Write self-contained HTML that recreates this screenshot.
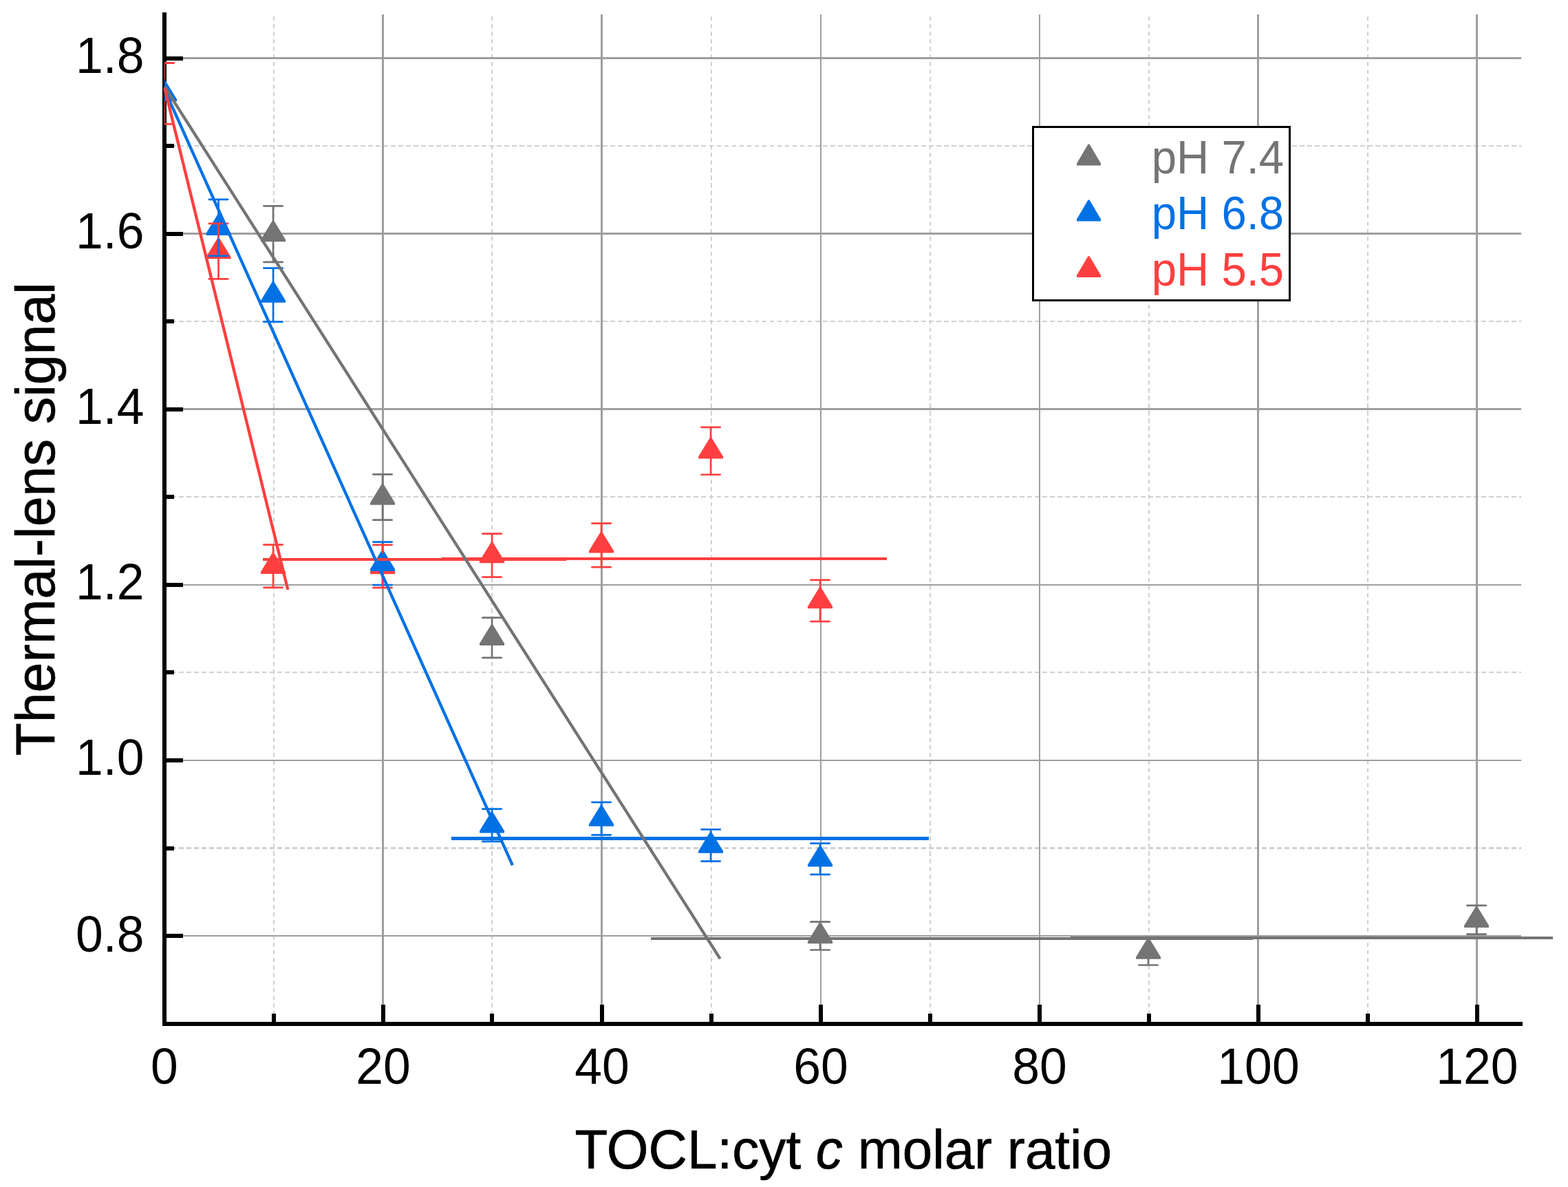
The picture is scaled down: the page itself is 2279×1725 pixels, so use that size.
<!DOCTYPE html>
<html lang="en"><head><meta charset="utf-8">
<title>Thermal-lens signal vs TOCL:cyt c molar ratio</title>
<style>
html,body{margin:0;padding:0;background:#fff;}
body{width:2279px;height:1725px;overflow:hidden;}
svg{display:block;}
text{font-family:"Liberation Sans", sans-serif;}
.tick{font-size:71.5px;fill:#000;}
.title{font-size:79.5px;fill:#000;stroke:#000;stroke-width:0.7px;stroke-linejoin:round;}
.leg{font-size:66.5px;}
</style></head><body>
<svg width="2279" height="1725" viewBox="0 0 2279 1725" role="img" aria-label="Thermal-lens signal versus TOCL:cyt c molar ratio at pH 7.4, 6.8 and 5.5">
<rect x="0" y="0" width="2279" height="1725" fill="#ffffff"/>
<g id="grid-minor" stroke="#d0d0d0" fill="none" shape-rendering="crispEdges">
<line x1="398.0" y1="23.6" x2="398.0" y2="1488.0" stroke-width="2" stroke-dasharray="6.2 4.835"/>
<line x1="715.0" y1="23.6" x2="715.0" y2="1488.0" stroke-width="2" stroke-dasharray="6.2 4.835"/>
<line x1="1034.0" y1="23.6" x2="1034.0" y2="1488.0" stroke-width="2" stroke-dasharray="6.2 4.835"/>
<line x1="1352.0" y1="23.6" x2="1352.0" y2="1488.0" stroke-width="2" stroke-dasharray="6.2 4.835"/>
<line x1="1670.0" y1="23.6" x2="1670.0" y2="1488.0" stroke-width="2" stroke-dasharray="6.2 4.835"/>
<line x1="1988.0" y1="23.6" x2="1988.0" y2="1488.0" stroke-width="2" stroke-dasharray="6.2 4.835"/>
<line x1="238" y1="212.0" x2="2211.0" y2="212.0" stroke-width="2" stroke-dasharray="6.9 4.107"/>
<line x1="238" y1="467.0" x2="2211.0" y2="467.0" stroke-width="2" stroke-dasharray="6.9 4.107"/>
<line x1="238" y1="722.0" x2="2211.0" y2="722.0" stroke-width="2" stroke-dasharray="6.9 4.107"/>
<line x1="238" y1="977.0" x2="2211.0" y2="977.0" stroke-width="2" stroke-dasharray="6.9 4.107"/>
<line x1="238" y1="1232.5" x2="2211.0" y2="1232.5" stroke-width="3" stroke-dasharray="6.9 4.107"/>
</g>
<g id="grid-major" fill="#9e9e9e" shape-rendering="crispEdges">
<rect x="555" y="21.2" width="3" height="1466.8"/>
<rect x="873" y="21.2" width="3" height="1466.8"/>
<rect x="1192" y="21.2" width="2" height="1466.8"/>
<rect x="1510" y="21.2" width="2" height="1466.8"/>
<rect x="1827" y="21.2" width="3" height="1466.8"/>
<rect x="2145" y="21.2" width="3" height="1466.8"/>
<rect x="239.0" y="83" width="1972.0" height="3"/>
<rect x="239.0" y="338" width="1972.0" height="3"/>
<rect x="239.0" y="593" width="1972.0" height="3"/>
<rect x="239.0" y="849" width="1972.0" height="2"/>
<rect x="239.0" y="1104" width="1972.0" height="2"/>
<rect x="239.0" y="1359" width="1972.0" height="2"/>
</g>
<g id="axes" fill="#000" shape-rendering="crispEdges">
<rect x="236" y="18" width="6" height="1473"/>
<rect x="236" y="1485" width="1977" height="6"/>
<rect x="239" y="82" width="27" height="6"/>
<rect x="239" y="337" width="27" height="6"/>
<rect x="239" y="592" width="27" height="6"/>
<rect x="239" y="847" width="27" height="6"/>
<rect x="239" y="1102" width="27" height="6"/>
<rect x="239" y="1357" width="27" height="6"/>
<rect x="239" y="209" width="14" height="6"/>
<rect x="239" y="464" width="14" height="6"/>
<rect x="239" y="719" width="14" height="6"/>
<rect x="239" y="974" width="14" height="6"/>
<rect x="239" y="1230" width="14" height="6"/>
<rect x="554" y="1460" width="6" height="27"/>
<rect x="872" y="1460" width="6" height="27"/>
<rect x="1190" y="1460" width="6" height="27"/>
<rect x="1508" y="1460" width="6" height="27"/>
<rect x="1826" y="1460" width="6" height="27"/>
<rect x="2144" y="1460" width="6" height="27"/>
<rect x="395" y="1473" width="6" height="14"/>
<rect x="712" y="1473" width="6" height="14"/>
<rect x="1031" y="1473" width="6" height="14"/>
<rect x="1349" y="1473" width="6" height="14"/>
<rect x="1667" y="1473" width="6" height="14"/>
<rect x="1985" y="1473" width="6" height="14"/>
</g>
<defs><clipPath id="plotclip"><rect x="239.1" y="0" width="2100" height="1725"/></clipPath></defs>
<g id="markers">
<g id="m-ph74"><polygon points="396.05,320.56 398.05,320.56 415.05,348.36 415.05,351.36 379.05,351.36 379.05,348.36" fill="#747474"/><polygon points="555.05,702.88 557.05,702.88 574.05,730.68 574.05,733.68 538.05,733.68 538.05,730.68" fill="#747474"/><polygon points="714.05,907.18 716.05,907.18 733.05,934.98 733.05,937.98 697.05,937.98 697.05,934.98" fill="#747474"/><polygon points="1191.05,1340.51 1193.05,1340.51 1210.05,1368.31 1210.05,1371.31 1174.05,1371.31 1174.05,1368.31" fill="#747474"/><polygon points="1668.05,1362.95 1670.05,1362.95 1687.05,1390.75 1687.05,1393.75 1651.05,1393.75 1651.05,1390.75" fill="#747474"/><polygon points="2145.05,1317.17 2147.05,1317.17 2164.05,1344.97 2164.05,1347.97 2128.05,1347.97 2128.05,1344.97" fill="#747474"/></g>
<g id="m-ph55"><polygon points="316.55,345.55 318.55,345.55 335.55,373.35 335.55,376.35 299.55,376.35 299.55,373.35" fill="#ff3f3f"/><polygon points="396.05,803.11 398.05,803.11 415.05,830.91 415.05,833.91 379.05,833.91 379.05,830.91" fill="#ff3f3f"/><polygon points="555.05,803.37 557.05,803.37 574.05,831.17 574.05,834.17 538.05,834.17 538.05,831.17" fill="#ff3f3f"/><polygon points="714.05,787.56 716.05,787.56 733.05,815.36 733.05,818.36 697.05,818.36 697.05,815.36" fill="#ff3f3f"/><polygon points="873.05,772.76 875.05,772.76 892.05,800.56 892.05,803.56 856.05,803.56 856.05,800.56" fill="#ff3f3f"/><polygon points="1032.05,635.67 1034.05,635.67 1051.05,663.47 1051.05,666.47 1015.05,666.47 1015.05,663.47" fill="#ff3f3f"/><polygon points="1191.05,853.36 1193.05,853.36 1210.05,881.16 1210.05,884.16 1174.05,884.16 1174.05,881.16" fill="#ff3f3f"/></g>
<g id="m-ph68"><g clip-path="url(#plotclip)"><polygon points="238.05,116.52 240.05,116.52 257.05,144.32 257.05,147.32 221.05,147.32 221.05,144.32" fill="#0071e4"/></g><polygon points="316.55,311.25 318.55,311.25 335.55,339.05 335.55,342.05 299.55,342.05 299.55,339.05" fill="#0071e4"/><polygon points="396.05,409.06 398.05,409.06 415.05,436.86 415.05,439.86 379.05,439.86 379.05,436.86" fill="#0071e4"/><polygon points="555.05,799.29 557.05,799.29 574.05,827.09 574.05,830.09 538.05,830.09 538.05,827.09" fill="#0071e4"/><polygon points="714.05,1179.70 716.05,1179.70 733.05,1207.50 733.05,1210.50 697.05,1210.50 697.05,1207.50" fill="#0071e4"/><polygon points="873.05,1170.00 875.05,1170.00 892.05,1197.80 892.05,1200.80 856.05,1200.80 856.05,1197.80" fill="#0071e4"/><polygon points="1032.05,1208.90 1034.05,1208.90 1051.05,1236.70 1051.05,1239.70 1015.05,1239.70 1015.05,1236.70" fill="#0071e4"/><polygon points="1191.05,1228.67 1193.05,1228.67 1210.05,1256.47 1210.05,1259.47 1174.05,1259.47 1174.05,1256.47" fill="#0071e4"/></g>
</g>
<g id="errorbars">
<g id="e-ph74"><path d="M383.40 299.36H410.70M383.40 380.96H410.70" stroke="#747474" stroke-width="2.70" stroke-linecap="round" fill="none"/><path d="M397.05 299.36V321.56M397.05 350.36V380.96" stroke="#747474" stroke-width="2.70" fill="none"/><path d="M542.40 689.33H569.70M542.40 755.63H569.70" stroke="#747474" stroke-width="2.70" stroke-linecap="round" fill="none"/><path d="M556.05 689.33V703.88M556.05 732.68V755.63" stroke="#747474" stroke-width="2.70" fill="none"/><path d="M701.40 897.71H728.70M701.40 955.84H728.70" stroke="#747474" stroke-width="2.70" stroke-linecap="round" fill="none"/><path d="M715.05 897.71V908.18M715.05 936.98V955.84" stroke="#747474" stroke-width="2.70" fill="none"/><path d="M1178.40 1339.71H1205.70M1178.40 1380.50H1205.70" stroke="#747474" stroke-width="2.70" stroke-linecap="round" fill="none"/><path d="M1192.05 1339.71V1341.51M1192.05 1370.31V1380.50" stroke="#747474" stroke-width="2.70" fill="none"/><path d="M1655.40 1362.60H1682.70M1655.40 1402.50H1682.70" stroke="#747474" stroke-width="2.70" stroke-linecap="round" fill="none"/><path d="M1669.05 1362.60V1363.95M1669.05 1392.75V1402.50" stroke="#747474" stroke-width="2.70" fill="none"/><path d="M2132.40 1315.90H2159.70M2132.40 1357.63H2159.70" stroke="#747474" stroke-width="2.70" stroke-linecap="round" fill="none"/><path d="M2146.05 1315.90V1318.17M2146.05 1346.97V1357.63" stroke="#747474" stroke-width="2.70" fill="none"/></g>
<g id="e-ph68"><path d="M303.90 289.87H331.20M303.90 371.83H331.20" stroke="#0071e4" stroke-width="2.70" stroke-linecap="round" fill="none"/><path d="M317.55 289.87V312.25M317.55 341.05V371.83" stroke="#0071e4" stroke-width="2.70" fill="none"/><path d="M383.40 389.63H410.70M383.40 467.69H410.70" stroke="#0071e4" stroke-width="2.70" stroke-linecap="round" fill="none"/><path d="M397.05 389.63V410.06M397.05 438.86V467.69" stroke="#0071e4" stroke-width="2.70" fill="none"/><path d="M542.40 787.67H569.70M542.40 850.11H569.70" stroke="#0071e4" stroke-width="2.70" stroke-linecap="round" fill="none"/><path d="M556.05 787.67V800.29M556.05 829.09V850.11" stroke="#0071e4" stroke-width="2.70" fill="none"/><path d="M701.40 1175.68H728.70M701.40 1222.91H728.70" stroke="#0071e4" stroke-width="2.70" stroke-linecap="round" fill="none"/><path d="M715.05 1175.68V1180.70M715.05 1209.50V1222.91" stroke="#0071e4" stroke-width="2.70" fill="none"/><path d="M860.40 1165.80H887.70M860.40 1213.41H887.70" stroke="#0071e4" stroke-width="2.70" stroke-linecap="round" fill="none"/><path d="M874.05 1165.80V1171.00M874.05 1199.80V1213.41" stroke="#0071e4" stroke-width="2.70" fill="none"/><path d="M1019.40 1205.47H1046.70M1019.40 1251.53H1046.70" stroke="#0071e4" stroke-width="2.70" stroke-linecap="round" fill="none"/><path d="M1033.05 1205.47V1209.90M1033.05 1238.70V1251.53" stroke="#0071e4" stroke-width="2.70" fill="none"/><path d="M1178.40 1225.63H1205.70M1178.40 1270.90H1205.70" stroke="#0071e4" stroke-width="2.70" stroke-linecap="round" fill="none"/><path d="M1192.05 1225.63V1229.67M1192.05 1258.47V1270.90" stroke="#0071e4" stroke-width="2.70" fill="none"/></g>
<g id="e-ph55-0" clip-path="url(#plotclip)"><path d="M239 91.5H253.7M239 180.4H253.7" stroke="#ff3f3f" stroke-width="2.9" fill="none"/><path d="M238.9 91.5V115.5M238.9 146.5V180.4" stroke="#ff3f3f" stroke-width="2.6" fill="none"/></g>
<g id="e-ph55"><path d="M303.90 324.86H331.20M303.90 405.45H331.20" stroke="#ff3f3f" stroke-width="2.70" stroke-linecap="round" fill="none"/><path d="M317.55 324.86V346.55M317.55 375.35V405.45" stroke="#ff3f3f" stroke-width="2.70" fill="none"/><path d="M383.40 791.57H410.70M383.40 853.86H410.70" stroke="#ff3f3f" stroke-width="2.70" stroke-linecap="round" fill="none"/><path d="M397.05 791.57V804.11M397.05 832.91V853.86" stroke="#ff3f3f" stroke-width="2.70" fill="none"/><path d="M542.40 791.83H569.70M542.40 854.11H569.70" stroke="#ff3f3f" stroke-width="2.70" stroke-linecap="round" fill="none"/><path d="M556.05 791.83V804.37M556.05 833.17V854.11" stroke="#ff3f3f" stroke-width="2.70" fill="none"/><path d="M701.40 775.70H728.70M701.40 838.61H728.70" stroke="#ff3f3f" stroke-width="2.70" stroke-linecap="round" fill="none"/><path d="M715.05 775.70V788.56M715.05 817.36V838.61" stroke="#ff3f3f" stroke-width="2.70" fill="none"/><path d="M860.40 760.61H887.70M860.40 824.12H887.70" stroke="#ff3f3f" stroke-width="2.70" stroke-linecap="round" fill="none"/><path d="M874.05 760.61V773.76M874.05 802.56V824.12" stroke="#ff3f3f" stroke-width="2.70" fill="none"/><path d="M1019.40 620.78H1046.70M1019.40 689.77H1046.70" stroke="#ff3f3f" stroke-width="2.70" stroke-linecap="round" fill="none"/><path d="M1033.05 620.78V636.67M1033.05 665.47V689.77" stroke="#ff3f3f" stroke-width="2.70" fill="none"/><path d="M1178.40 842.82H1205.70M1178.40 903.10H1205.70" stroke="#ff3f3f" stroke-width="2.70" stroke-linecap="round" fill="none"/><path d="M1192.05 842.82V854.36M1192.05 883.16V903.10" stroke="#ff3f3f" stroke-width="2.70" fill="none"/></g>
</g>
<g id="fits" fill="none">
<rect x="946.00" y="1362" width="874.50" height="4" fill="#747474" shape-rendering="crispEdges"/>
<rect x="1556.00" y="1361" width="701.00" height="4" fill="#747474" shape-rendering="crispEdges"/>
<rect x="656.00" y="1216" width="694.00" height="5" fill="#0071e4" shape-rendering="crispEdges"/>
<rect x="382.00" y="811" width="441.00" height="4" fill="#ff3f3f" shape-rendering="crispEdges"/>
<rect x="642.00" y="810" width="647.00" height="4" fill="#ff3f3f" shape-rendering="crispEdges"/>
<line x1="239.30" y1="126.20" x2="1046.70" y2="1393.40" stroke="#747474" stroke-width="4.30"/>
<line x1="239.30" y1="130.60" x2="744.90" y2="1257.30" stroke="#0071e4" stroke-width="4.30"/>
<line x1="239.30" y1="128.00" x2="418.40" y2="857.00" stroke="#ff3f3f" stroke-width="4.30"/>
</g>
<g id="ylabels" class="tick" text-anchor="end">
<text transform="translate(209.4 105.9) scale(1 1.04)">1.8</text>
<text transform="translate(209.4 360.9) scale(1 1.04)">1.6</text>
<text transform="translate(209.4 615.9) scale(1 1.04)">1.4</text>
<text transform="translate(209.4 871.4) scale(1 1.04)">1.2</text>
<text transform="translate(209.4 1126.4) scale(1 1.04)">1.0</text>
<text transform="translate(209.4 1382.6) scale(1 1.04)">0.8</text>
</g>
<g id="xlabels" class="tick" text-anchor="middle">
<text transform="translate(238.9 1574.6) scale(1 1.04)">0</text>
<text transform="translate(557.0 1574.6) scale(1 1.04)">20</text>
<text transform="translate(875.0 1574.6) scale(1 1.04)">40</text>
<text transform="translate(1193.0 1574.6) scale(1 1.04)">60</text>
<text transform="translate(1511.0 1574.6) scale(1 1.04)">80</text>
<text transform="translate(1829.0 1574.6) scale(1 1.04)">100</text>
<text transform="translate(2146.9 1574.6) scale(1 1.04)">120</text>
</g>
<text class="title" text-anchor="middle" transform="translate(79 754.3) rotate(-90) scale(0.9925 1)">Thermal-lens signal</text>
<text class="title" text-anchor="middle" transform="translate(1225.7 1697.8) scale(0.9835 1)">TOCL:cyt <tspan font-style="italic">c</tspan> molar ratio</text>
<g id="legend">
<rect x="1501.5" y="184.5" width="373" height="252" fill="#fff" stroke="#000" stroke-width="3" shape-rendering="crispEdges"/>
<polygon points="1581.50,209.60 1583.50,209.60 1600.00,237.40 1600.00,240.40 1565.00,240.40 1565.00,237.40" fill="#747474"/>
<text class="leg" transform="translate(1673.8 252.3) scale(0.982 1.04)" fill="#747474">pH 7.4</text>
<polygon points="1581.50,290.60 1583.50,290.60 1600.00,318.40 1600.00,321.40 1565.00,321.40 1565.00,318.40" fill="#0071e4"/>
<text class="leg" transform="translate(1673.8 333.3) scale(0.982 1.04)" fill="#0071e4">pH 6.8</text>
<polygon points="1581.50,372.20 1583.50,372.20 1600.00,400.00 1600.00,403.00 1565.00,403.00 1565.00,400.00" fill="#ff3f3f"/>
<text class="leg" transform="translate(1673.8 415.0) scale(0.982 1.04)" fill="#ff3f3f">pH 5.5</text>
</g>
</svg>
</body></html>
